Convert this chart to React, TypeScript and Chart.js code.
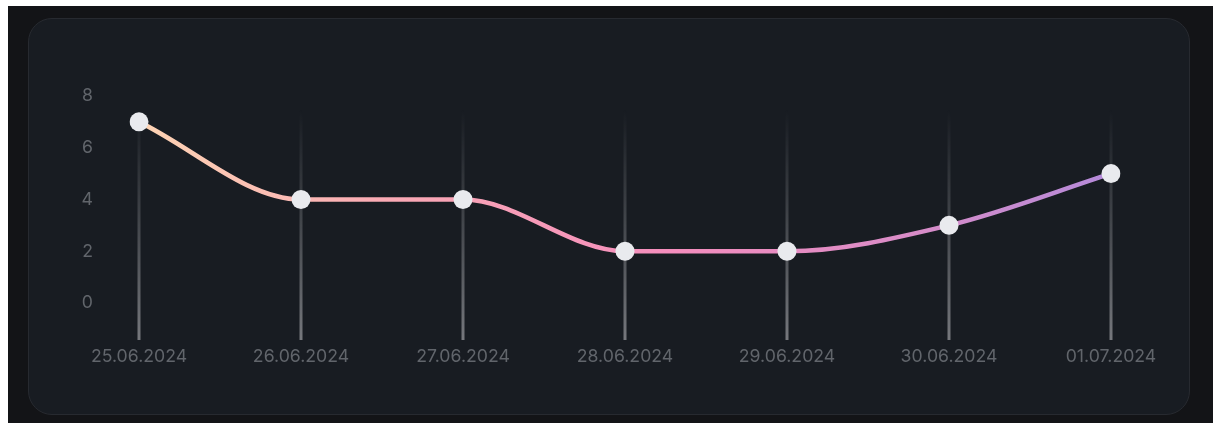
import React, { useEffect, useRef } from "react";
import { Chart, registerables } from "chart.js";

Chart.register(...registerables);

const LABELS = ["25.06.2024", "26.06.2024", "27.06.2024", "28.06.2024", "29.06.2024", "30.06.2024", "01.07.2024"];
const VALUES = [7, 4, 4, 2, 2, 3, 5];
const Y_TICKS = [0, 2, 4, 6, 8];

const FONT = "Inter, 'Noto Sans', sans-serif";
const TEXT_COLOR = "#61656b";

const vLinesPlugin = {
  id: "vlines",
  beforeDatasetsDraw(chart: any) {
    const { ctx, chartArea, scales } = chart;
    const xs = scales.x;
    ctx.save();
    LABELS.forEach((_, i) => {
      const x = xs.getPixelForValue(i);
      const top = chartArea.top + 14;
      const g = ctx.createLinearGradient(0, top, 0, chartArea.bottom);
      g.addColorStop(0, "rgba(110,113,118,0)");
      g.addColorStop(0.4, "rgba(110,113,118,0.4)");
      g.addColorStop(1, "rgba(118,120,125,1)");
      ctx.strokeStyle = g;
      ctx.lineWidth = 3;
      ctx.beginPath();
      ctx.moveTo(x, top);
      ctx.lineTo(x, chartArea.bottom);
      ctx.stroke();
    });
    ctx.restore();
  },
};

export default function App() {
  const ref = useRef<HTMLCanvasElement | null>(null);

  useEffect(() => {
    if (!ref.current) return;
    const chart = new Chart(ref.current, {
      type: "line",
      data: {
        labels: LABELS,
        datasets: [
          {
            data: VALUES,
            borderWidth: 4.5,
            cubicInterpolationMode: "monotone",
            borderColor: (c: any) => {
              const ch = c.chart;
              const ca = ch.chartArea;
              if (!ca) return "#f48fbd";
              const g = ch.ctx.createLinearGradient(ca.left, 0, ca.right, 0);
              g.addColorStop(0, "#fdd4b4");
              g.addColorStop(0.25, "#f9aab4");
              g.addColorStop(0.55, "#f48dbd");
              g.addColorStop(0.8, "#d88cc8");
              g.addColorStop(1, "#b48ada");
              return g;
            },
            pointRadius: 9.5,
            pointHoverRadius: 9.5,
            pointBackgroundColor: "#e9eaee",
            pointBorderColor: "#e9eaee",
            pointBorderWidth: 0,
            fill: false,
          } as any,
        ],
      },
      options: {
        animation: false,
        responsive: false,
        maintainAspectRatio: false,
        layout: { padding: { left: 0, right: 78, top: 77, bottom: 0 } },
        plugins: { legend: { display: false }, tooltip: { enabled: false } },
        scales: {
          x: {
            grid: { display: false, drawTicks: false },
            border: { display: false },
            ticks: { color: TEXT_COLOR, font: { family: FONT, size: 17.7 }, padding: 6, maxRotation: 0 },
            afterFit: (s: any) => {
              s.height = 74;
            },
          },
          y: {
            min: -1.43,
            max: 8,
            grid: { display: false, drawTicks: false },
            border: { display: false },
            afterBuildTicks: (s: any) => {
              s.ticks = Y_TICKS.map((v) => ({ value: v }));
            },
            ticks: { color: TEXT_COLOR, font: { family: FONT, size: 17.7 }, padding: 46 },
            afterFit: (s: any) => {
              s.width = 110;
            },
          },
        },
      },
      plugins: [vLinesPlugin],
    });
    return () => chart.destroy();
  }, []);

  return (
    <div
      style={{
        position: "absolute",
        left: 8,
        top: 6,
        right: 0,
        bottom: 0,
        background: "#131417",
      }}
    >
      <div
        style={{
          position: "absolute",
          left: 20,
          top: 12,
          width: 1160,
          height: 395,
          background: "#181c22",
          border: "1px solid #272a30",
          borderRadius: 24,
        }}
      >
        <canvas ref={ref} width={1160} height={395} style={{ display: "block" }} />
      </div>
    </div>
  );
}
